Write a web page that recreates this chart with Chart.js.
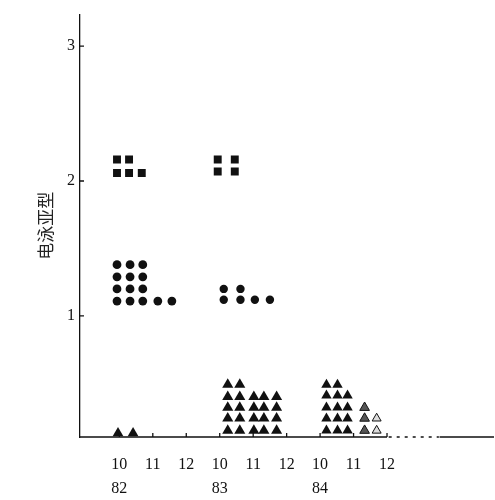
<!DOCTYPE html>
<html>
<head>
<meta charset="utf-8">
<script src="https://cdn.jsdelivr.net/npm/chart.js@4"></script>
<style>body{margin:0;background:#fff}</style>
</head>
<body>
<canvas id="chart" width="495" height="500"></canvas>
<script>
// x: month position (0 = Oct 1982 ... 8 = Dec 1984), y: electrophoretic subtype
const monthTicks = [0, 1, 2, 3, 4, 5, 6, 7, 8];
const monthLabels = [['10', '82'], '11', '12', ['10', '83'], '11', '12', ['10', '84'], '11', '12'];
const subtypeTicks = [1, 2, 3];

// each cluster: column positions, and rows of [subtype, count]
const sq82Cols = [-0.07, 0.29, 0.67];
const sq82Rows = [[2.16, 2], [2.06, 3]];
const sq83Cols = [2.94, 3.45];
const sq83Rows = [[2.16, 2], [2.07, 2]];
const ci82Cols = [-0.07, 0.32, 0.70, 1.15, 1.57];
const ci82Rows = [[1.38, 3], [1.29, 3], [1.20, 3], [1.11, 5]];
const ci83Cols = [3.12, 3.62, 4.05, 4.50];
const ci83Rows = [[1.20, 2], [1.12, 4]];
const tr82Cols = [-0.04, 0.41];
const tr82Rows = [[0.13, 2]];
const tr83Cols = [3.24, 3.60, 4.02, 4.32, 4.70];
const tr83Rows = [[0.49, 2], [0.40, 5], [0.32, 5], [0.24, 5], [0.15, 5]];
const tr84Cols = [6.19, 6.52, 6.82];
const tr84Rows = [[0.49, 2], [0.41, 3], [0.32, 3], [0.24, 3], [0.15, 3]];
// Nov 84, printed faint in the original
const tr84bCols = [7.33];
const tr84bRows = [[0.32, 1], [0.24, 1], [0.15, 1]];
const tr84cCols = [7.69];
const tr84cRows = [[0.24, 1], [0.15, 1]];

function points(cols, rows) {
    const pts = [];
    rows.forEach(([y, n]) => {
        for (let k = 0; k < n; k++) pts.push({x: cols[k], y: y});
    });
    return pts;
}

function marks(cols, rows, style, r, fill) {
    return {
        data: points(cols, rows),
        pointStyle: style,
        pointRadius: r,
        pointHoverRadius: r,
        backgroundColor: fill || '#111',
        borderColor: '#111',
        borderWidth: fill ? 1 : 0
    };
}

// ticks pointing inward + broken x axis line
const axisPlugin = {
    id: 'axisMarks',
    afterDraw(chart) {
        const ctx = chart.ctx;
        const xs = chart.scales.x, ys = chart.scales.y;
        const area = chart.chartArea;
        ctx.save();
        ctx.strokeStyle = '#111';
        ctx.lineWidth = 1.3;
        ctx.beginPath();
        subtypeTicks.forEach(v => {
            const p = ys.getPixelForValue(v);
            ctx.moveTo(area.left, p);
            ctx.lineTo(area.left + 4, p);
        });
        monthTicks.forEach(v => {
            const p = xs.getPixelForValue(v);
            ctx.moveTo(p, area.bottom);
            ctx.lineTo(p, area.bottom - 4);
        });
        ctx.moveTo(area.left, area.bottom);
        ctx.lineTo(xs.getPixelForValue(8.0), area.bottom);
        ctx.moveTo(xs.getPixelForValue(9.57), area.bottom);
        ctx.lineTo(chart.width - 1, area.bottom);
        ctx.stroke();
        ctx.setLineDash([3, 5]);
        ctx.beginPath();
        ctx.moveTo(xs.getPixelForValue(8.05), area.bottom);
        ctx.lineTo(xs.getPixelForValue(9.55), area.bottom);
        ctx.stroke();
        ctx.restore();
    }
};

new Chart(document.querySelector('#chart').getContext('2d'), {
    type: 'scatter',
    data: {
        datasets: [
            marks(sq82Cols, sq82Rows, 'rect', 5.6),
            marks(sq83Cols, sq83Rows, 'rect', 5.6),
            marks(ci82Cols, ci82Rows, 'circle', 4.4),
            marks(ci83Cols, ci83Rows, 'circle', 4.2),
            marks(tr82Cols, tr82Rows, 'triangle', 6.2),
            marks(tr83Cols, tr83Rows, 'triangle', 6.4),
            marks(tr84Cols, tr84Rows, 'triangle', 6.0),
            marks(tr84bCols, tr84bRows, 'triangle', 5.6, '#555'),
            marks(tr84cCols, tr84cRows, 'triangle', 5.2, '#ddd')
        ]
    },
    options: {
        responsive: false,
        animation: false,
        layout: {padding: {top: 8, right: 1, left: 0, bottom: 0}},
        plugins: {legend: {display: false}, tooltip: {enabled: false}},
        scales: {
            x: {
                type: 'linear',
                min: -1.176,
                max: 11.03,
                afterBuildTicks: s => { s.ticks = monthTicks.map(v => ({value: v})); },
                afterFit: s => { s.height = 63; },
                grid: {display: false, drawTicks: false},
                border: {display: false},
                ticks: {
                    padding: 16,
                    color: '#111',
                    maxRotation: 0,
                    autoSkip: false,
                    font: {family: 'Liberation Serif', size: 16, lineHeight: 1.5},
                    callback: (v, i) => monthLabels[i]
                }
            },
            y: {
                type: 'linear',
                min: 0.102,
                max: 3.234,
                afterBuildTicks: s => { s.ticks = subtypeTicks.map(v => ({value: v})); },
                afterFit: s => { s.width = 80; },
                grid: {display: false, drawTicks: false},
                border: {display: true, color: '#111', width: 1.3},
                ticks: {
                    padding: 5,
                    color: '#111',
                    font: {family: 'Liberation Serif', size: 16}
                },
                title: {
                    display: true,
                    text: '电泳亚型',
                    color: '#222',
                    padding: {top: 35, bottom: 0},
                    font: {family: 'Noto Sans CJK SC', size: 17}
                }
            }
        }
    },
    plugins: [axisPlugin]
});
</script>
</body>
</html>
